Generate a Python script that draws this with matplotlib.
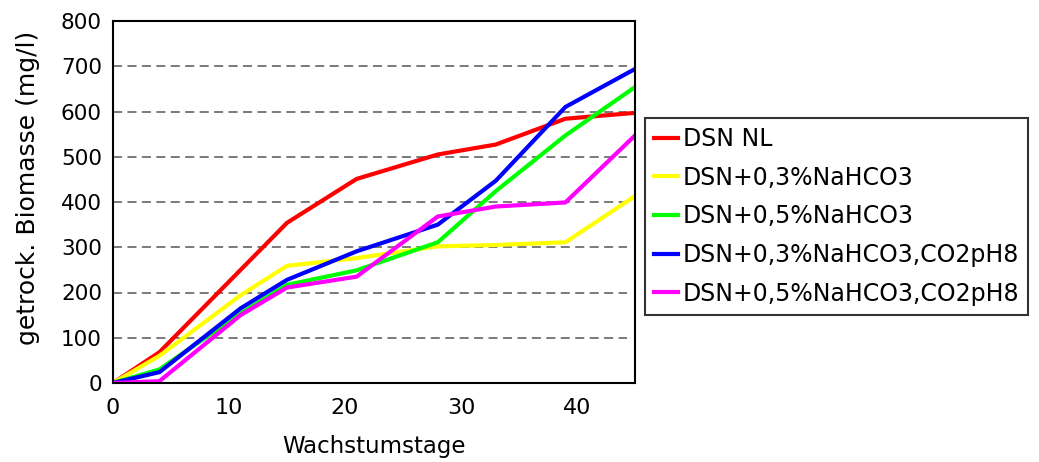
import matplotlib
matplotlib.use("Agg")
import matplotlib.pyplot as plt

days = [0, 4, 11, 15, 21, 28, 33, 39, 45]
dsn_nl = [0, 68, 250, 354, 451, 505, 527, 584, 597]
dsn_03 = [0, 60, 194, 259, 276, 302, 305, 311, 413]
dsn_05 = [0, 30, 154, 217, 249, 311, 424, 547, 654]
dsn_03_co2 = [0, 24, 165, 228, 291, 350, 447, 610, 694]
dsn_05_co2 = [0, 4, 150, 211, 235, 368, 390, 399, 547]

labels = ["DSN NL", "DSN+0,3%NaHCO3", "DSN+0,5%NaHCO3",
          "DSN+0,3%NaHCO3,CO2pH8", "DSN+0,5%NaHCO3,CO2pH8"]
colors = ["#FF0000", "#FFFF00", "#00FF00", "#0000FF", "#FF00FF"]
series = [dsn_nl, dsn_03, dsn_05, dsn_03_co2, dsn_05_co2]

plt.rcParams['font.family'] = ['DejaVu Sans']

W, H = 1039, 462
fig = plt.figure(figsize=(W / 100, H / 100), dpi=100)
ax = fig.add_axes([113 / W, 1 - 383 / H, (635 - 113) / W, (383 - 21) / H])

for vals, lab, col in zip(series, labels, colors):
    ax.plot(days, vals, color=col, lw=3.0, label=lab, solid_joinstyle='miter')

ax.set_xlim(0, 45)
ax.set_ylim(0, 800)
ax.set_xticks([0, 10, 20, 30, 40])
ax.set_yticks(range(0, 801, 100))
ax.tick_params(axis='y', length=0, labelsize=15.5, pad=8)
ax.tick_params(axis='x', length=0, labelsize=16, pad=11)
for y in range(100, 800, 100):
    ax.axhline(y, xmax=0.985, color="#707070", lw=1.3, ls=(0, (5, 3)), zorder=0)
for s in ax.spines.values():
    s.set_linewidth(1.5)
    s.set_color("black")

ax.set_xlabel("Wachstumstage", fontsize=16.5)
ax.xaxis.set_label_coords(0.5, -0.145)
ax.set_ylabel("getrock. Biomasse (mg/l)", fontsize=18)
ax.yaxis.set_label_coords(-0.14, 0.54)

leg = fig.legend(loc="upper left", bbox_to_anchor=(645 / W, 1 - 118 / H),
                 bbox_transform=fig.transFigure, borderaxespad=0,
                 fontsize=17, frameon=True, fancybox=False,
                 handlelength=1.0, handletextpad=0.22, labelspacing=0.62,
                 borderpad=0.38)
leg.get_frame().set_edgecolor("black")
leg.get_frame().set_linewidth(1.5)

fig.savefig("out.png", dpi=100)
